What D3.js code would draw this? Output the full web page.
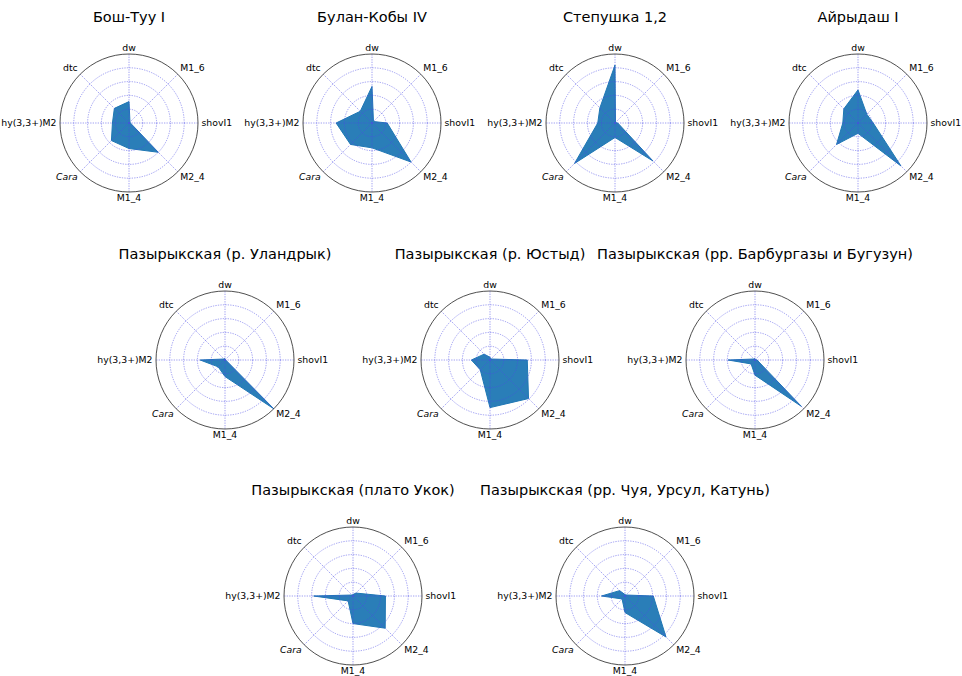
<!DOCTYPE html>
<html>
<head>
<meta charset="utf-8">
<script src="https://cdn.jsdelivr.net/npm/d3@7"></script>
<style>
	body { margin: 0; background: #fff; }
	text { font-family: "DejaVu Sans", sans-serif; }
</style>
</head>
<body>
<div id="radar-content"></div>
<script>
const dest		= '#radar-content';

// axis names, clockwise from the top
const axes		= ['dw', 'M1_6', 'shovI1', 'M2_4', 'M1_4', 'Cara', 'hy(3,3+)M2', 'dtc'];
const rings		= [0.2, 0.4, 0.6, 0.8];

const titles	= [
	'Бош-Туу I', 'Булан-Кобы IV', 'Степушка 1,2', 'Айрыдаш I',
	'Пазырыкская (р. Уландрык)', 'Пазырыкская (р. Юстыд)', 'Пазырыкская (рр. Барбургазы и Бугузун)',
	'Пазырыкская (плато Укок)', 'Пазырыкская (рр. Чуя, Урсул, Катунь)'
];

const boshTuu		= [0.31, 0.02, 0.02, 0.60, 0.37, 0.36, 0.24, 0.30];
const bulanKoby		= [0.53, 0.03, 0.22, 0.80, 0.36, 0.44, 0.52, 0.24];
const stepushka		= [0.84, 0.01, 0.04, 0.78, 0.21, 0.83, 0.25, 0.31];
const ayrydash		= [0.48, 0.18, 0.22, 0.88, 0.15, 0.44, 0.22, 0.29];
const ulandryk		= [0.02, 0.01, 0.01, 1.00, 0.24, 0.14, 0.36, 0.02];
const yustyd		= [0.04, 0.02, 0.54, 0.79, 0.69, 0.20, 0.27, 0.12];
const barburgazy	= [0.02, 0.01, 0.03, 0.95, 0.22, 0.08, 0.39, 0.02];
const ukok			= [0.02, 0.06, 0.47, 0.66, 0.40, 0.10, 0.57, 0.02];
const chuya			= [0.02, 0.02, 0.41, 0.84, 0.24, 0.06, 0.34, 0.11];

const series	= [boshTuu, bulanKoby, stepushka, ayrydash, ulandryk, yustyd, barburgazy, ukok, chuya];

const width		= 962;
const height	= 676;
const radius	= 69;

// rows of the layout: how many plots, first centre, step, centre y
const rows		= [
	{ n: 4, x0: 129, step: 243, y: 123 },
	{ n: 3, x0: 225, step: 265, y: 360 },
	{ n: 2, x0: 353, step: 272, y: 596 }
];

function createRadars() {
	d3.select(dest).selectAll('svg').remove();

	let svg = d3.select(dest).append('svg')
		.attr('width', width)
		.attr('height', height);

	let r		= d3.scaleLinear().domain([0, 1]).range([0, radius]);
	let angle	= d3.scalePoint().domain(axes).range([0, 2 * Math.PI * (axes.length - 1) / axes.length]);

	let centres	= _flatRows();

	series.forEach((values, i) => {
		let c	= centres[i];
		let g	= svg.append('g').attr('transform', 'translate(' + c.x + ',' + c.y + ')');

		let line = d3.lineRadial()
			.angle((d, k) => angle(axes[k]))
			.radius((d) => r(d))
			.curve(d3.curveLinearClosed);

		g.append('path')
			.attr('d', line(values))
			.attr('fill', '#1f77b4')
			.attr('fill-opacity', 0.95)
			.attr('stroke', '#1f77b4')
			.attr('stroke-width', 1);

		// grid on top of the fill
		g.selectAll('.ring')
			.data(rings)
			.enter().append('circle')
			.attr('r', (o) => r(o))
			.attr('fill', 'none')
			.attr('stroke', '#4a4ae6')
			.attr('stroke-opacity', 0.75)
			.attr('stroke-width', 0.7)
			.attr('stroke-dasharray', '1.3,1.2');

		g.selectAll('.spoke')
			.data(axes)
			.enter().append('line')
			.attr('x1', 0)
			.attr('y1', 0)
			.attr('x2', (o) => r(1) * Math.sin(angle(o)))
			.attr('y2', (o) => -r(1) * Math.cos(angle(o)))
			.attr('stroke', '#4a4ae6')
			.attr('stroke-opacity', 0.75)
			.attr('stroke-width', 0.7)
			.attr('stroke-dasharray', '1.3,1.2');

		g.append('circle')
			.attr('r', r(1))
			.attr('fill', 'none')
			.attr('stroke', '#222')
			.attr('stroke-width', 0.8);

		g.selectAll('.label')
			.data(axes)
			.enter().append('text')
			.attr('x', (o) => (r(1) + 3.5) * Math.sin(angle(o)))
			.attr('y', (o) => -(r(1) + 2) * Math.cos(angle(o)))
			.attr('text-anchor', (o) => {
				let s = Math.sin(angle(o));
				return s > 0.01 ? 'start' : (s < -0.01 ? 'end' : 'middle');
			})
			.attr('dy', (o) => {
				let c = Math.cos(angle(o));
				return c > 0.01 ? '-0.15em' : (c < -0.01 ? '0.75em' : '0.35em');
			})
			.attr('font-size', 9.3)
			.attr('font-style', (o) => (o == 'Cara' ? 'italic' : 'normal'))
			.attr('fill', '#000')
			.text((o) => o);

		svg.append('text')
			.attr('x', c.x)
			.attr('y', c.y - 101)
			.attr('text-anchor', 'middle')
			.attr('font-size', 14.5)
			.attr('fill', '#000')
			.text(titles[i]);
	});
}

function _flatRows() {
	let out = [];
	rows.forEach((row) => {
		d3.range(row.n).forEach((k) => out.push({ x: row.x0 + k * row.step, y: row.y }));
	});
	return out;
}

createRadars();
</script>
</body>
</html>
